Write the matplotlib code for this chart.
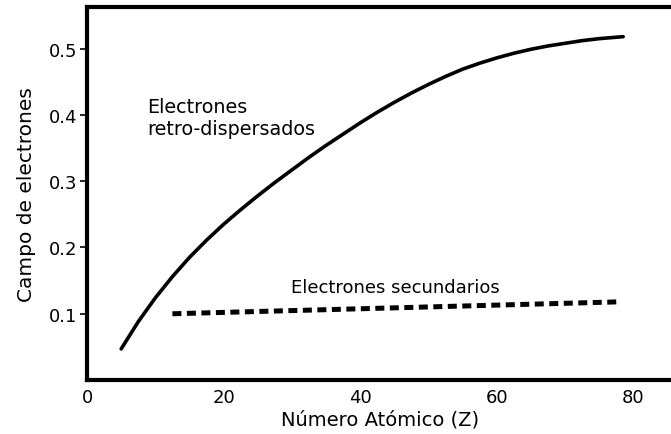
import matplotlib.pyplot as plt

# Yield curves versus atomic number
z_backscatter = [5, 7.5, 10, 12.5, 15, 17.5, 20, 22.5, 25, 27.5, 30, 32.5, 35,
                 37.5, 40, 42.5, 45, 47.5, 50, 52.5, 55, 57.5, 60, 62.5, 65,
                 67.5, 70, 72.5, 75, 78.5]
yield_backscatter = [0.047, 0.088, 0.124, 0.156, 0.185, 0.211, 0.235, 0.257,
                     0.278, 0.298, 0.317, 0.336, 0.354, 0.371, 0.388, 0.404,
                     0.419, 0.433, 0.446, 0.458, 0.469, 0.478, 0.486, 0.493,
                     0.499, 0.504, 0.508, 0.512, 0.515, 0.518]

z_secondary = [12.5, 78]
yield_secondary = [0.100, 0.118]

x_ticks = [0, 20, 40, 60, 80]
y_ticks = [0.1, 0.2, 0.3, 0.4, 0.5]

plt.rcParams['font.family'] = 'DejaVu Sans'

fig = plt.figure(figsize=(6.71, 4.35), dpi=100)
ax = fig.add_axes([0.1297, 0.124, 0.8733, 0.858])

ax.plot(z_backscatter, yield_backscatter, color='black', linewidth=2.6,
        solid_capstyle='round', solid_joinstyle='round')
ax.plot(z_secondary, yield_secondary, color='black', linewidth=3.6,
        dashes=(1.8, 1.1), dash_capstyle='butt')

ax.text(8.8, 0.396, 'Electrones\nretro-dispersados', fontsize=13.8,
        va='center', ha='left', linespacing=1.2)
ax.text(29.8, 0.140, 'Electrones secundarios', fontsize=13,
        va='center', ha='left')

ax.set_xlim(0, 85.8)
ax.set_ylim(0, 0.563)
ax.set_xticks(x_ticks)
ax.set_yticks(y_ticks)
ax.tick_params(axis='x', length=0, labelsize=13, pad=6)
ax.tick_params(axis='y', length=5, width=1.2, labelsize=13, pad=2)

for side in ['left', 'bottom', 'top', 'right']:
    ax.spines[side].set_linewidth(3)

ax.set_xlabel('Número Atómico (Z)', fontsize=14, labelpad=2)
ax.set_ylabel('Campo de electrones', fontsize=14.5, labelpad=9)

fig.savefig('out.png', dpi=100)
